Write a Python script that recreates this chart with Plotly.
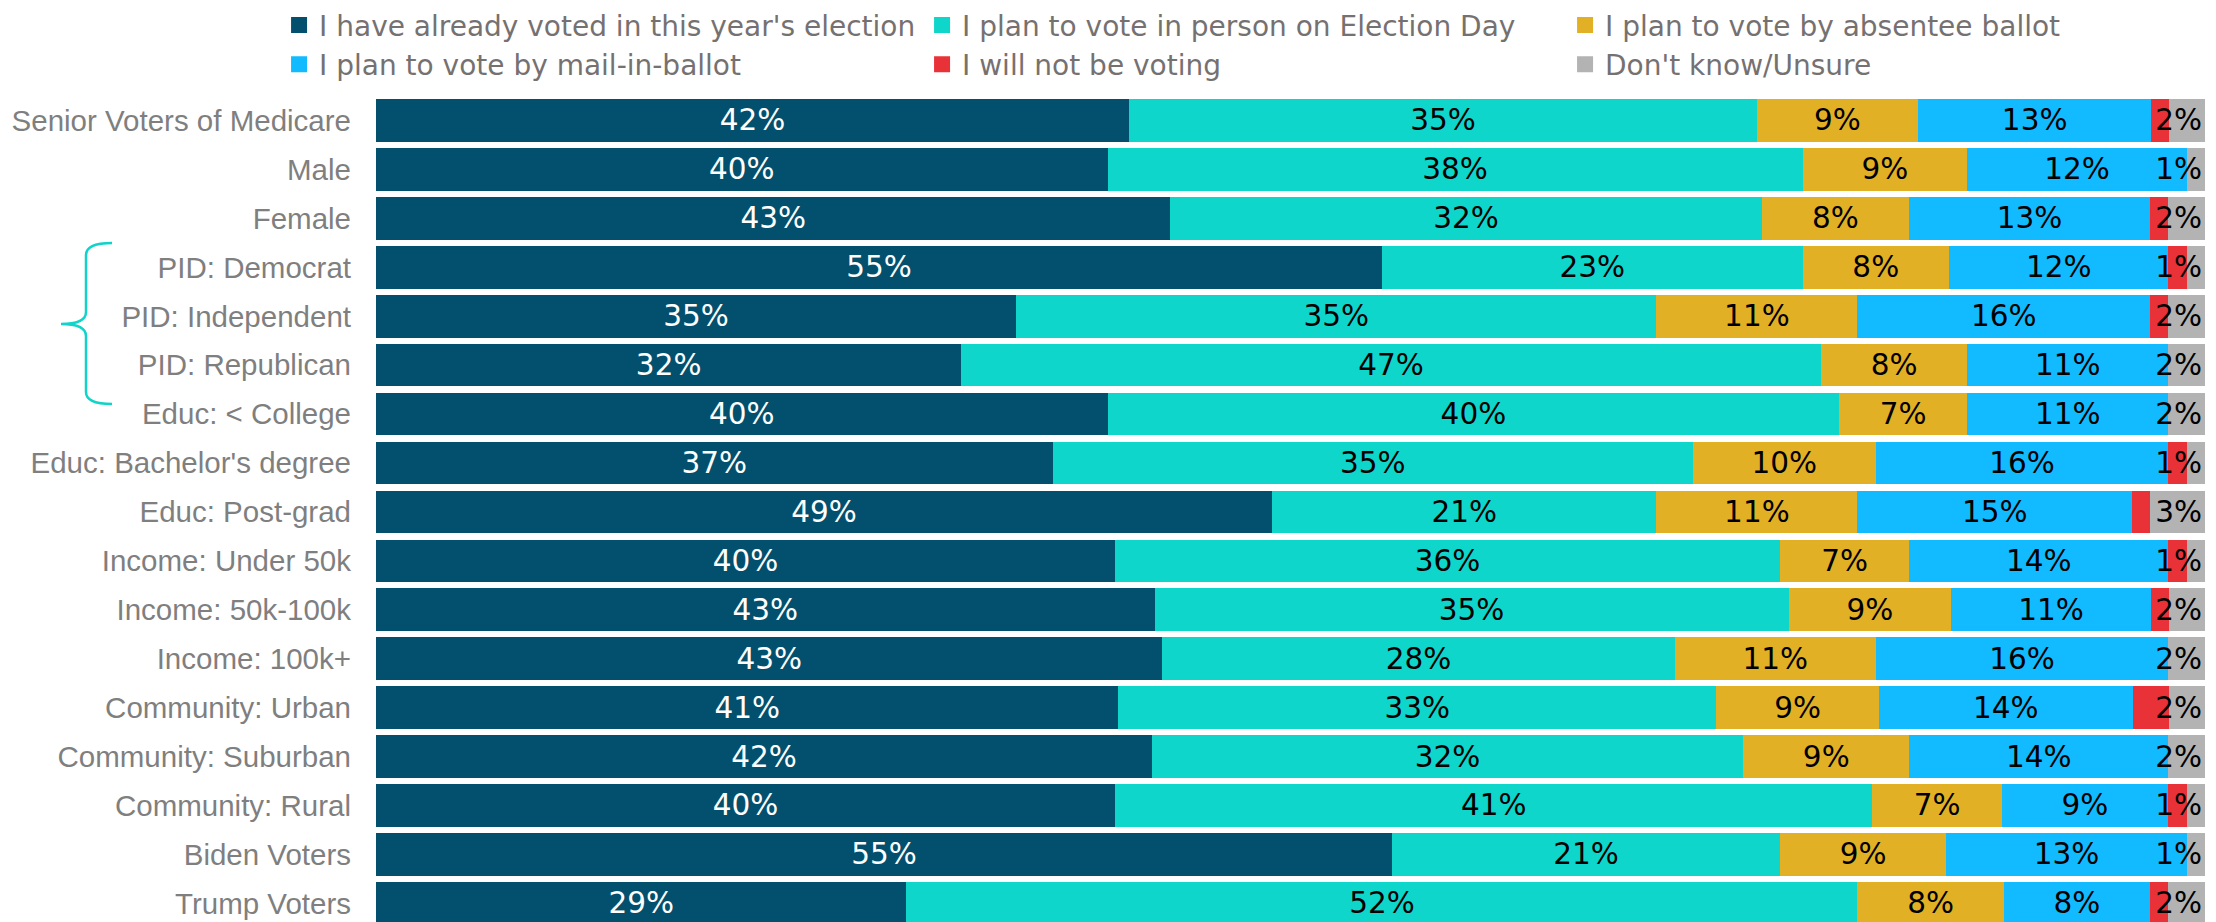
import plotly.graph_objects as go

categories = [
    "Senior Voters of Medicare", "Male", "Female", "PID: Democrat",
    "PID: Independent", "PID: Republican", "Educ: < College",
    "Educ: Bachelor's degree", "Educ: Post-grad", "Income: Under 50k",
    "Income: 50k-100k", "Income: 100k+", "Community: Urban",
    "Community: Suburban", "Community: Rural", "Biden Voters", "Trump Voters",
]

series_names = [
    "I have already voted in this year's election",
    "I plan to vote in person on Election Day",
    "I plan to vote by absentee ballot",
    "I plan to vote by mail-in-ballot",
    "I will not be voting",
    "Don't know/Unsure",
]

already_voted = [42, 40, 43, 55, 35, 32, 40, 37, 49, 40, 43, 43, 41, 42, 40, 55, 29]
in_person = [35, 38, 32, 23, 35, 47, 40, 35, 21, 36, 35, 28, 33, 32, 41, 21, 52]
absentee = [9, 9, 8, 8, 11, 8, 7, 10, 11, 7, 9, 11, 9, 9, 7, 9, 8]
mail_in = [13, 12, 13, 12, 16, 11, 11, 16, 15, 14, 11, 16, 14, 14, 9, 13, 8]
not_voting = [1, 0, 1, 1, 1, 0, 0, 1, 1, 1, 1, 0, 2, 0, 1, 0, 1]
unsure = [2, 1, 2, 1, 2, 2, 2, 1, 3, 1, 2, 2, 2, 2, 1, 1, 2]

colors = ["#02506E", "#0FD6CB", "#E2B024", "#12BBFF", "#E93238", "#B3B3B3"]
text_colors = ["#FFFFFF", "#000000", "#000000", "#000000", "#000000", "#000000"]

all_series = [already_voted, in_person, absentee, mail_in, not_voting, unsure]

LABEL_FONT = "DejaVu Sans, Verdana, sans-serif"
TICK_FONT = "Liberation Sans, Arial, sans-serif"

fig = go.Figure()

for i, (name, vals) in enumerate(zip(series_names, all_series)):
    show_text = i != 4
    fig.add_trace(go.Bar(
        y=categories,
        x=vals,
        orientation="h",
        name=name,
        marker=dict(color=colors[i], line=dict(width=0)),
        text=[f"{v}%" for v in vals] if show_text else None,
        textposition="inside" if show_text else "none",
        insidetextanchor="end" if i == 5 else "middle",
        textangle=0,
        constraintext="none",
        textfont=dict(family=LABEL_FONT, size=29.5, color=text_colors[i]),
        showlegend=False,
        hoverinfo="x+y+name",
    ))

# legend-only entries with larger square swatches
for i, name in enumerate(series_names):
    fig.add_trace(go.Scatter(
        x=[None], y=[None], mode="markers", name=name,
        marker=dict(symbol="square", size=16, color=colors[i]),
        showlegend=True, hoverinfo="skip",
    ))

# bracket next to the PID rows
xa = (112 - 376) / 1829
xv = (86 - 376) / 1829
xt = (61 - 376) / 1829
y0 = (922 - 243) / 826
y1 = (922 - 404) / 826
ym = (922 - 324) / 826
r = 12 / 826
brace = (f"M {xa},{y0} Q {xv},{y0} {xv},{y0 - r} L {xv},{ym + r} "
         f"Q {xv},{ym} {xt},{ym} Q {xv},{ym} {xv},{ym - r} "
         f"L {xv},{y1 + r} Q {xv},{y1} {xa},{y1}")

fig.update_layout(
    width=2216, height=922,
    margin=dict(l=376, r=11, t=96, b=0, pad=0),
    barmode="stack",
    barnorm="percent",
    bargap=0.1275,
    paper_bgcolor="white",
    plot_bgcolor="white",
    xaxis=dict(visible=False, range=[0, 100], fixedrange=True),
    yaxis=dict(
        range=[16.381, -0.5],
        showgrid=False, zeroline=False, showline=False, ticks="",
        tickfont=dict(family=TICK_FONT, size=29.5, color="#7F7F7F"),
        ticklabelstandoff=24,
    ),
    legend=dict(
        orientation="h",
        x=-0.053, xanchor="left",
        y=1.116, yanchor="top",
        entrywidth=598, entrywidthmode="pixels",
        font=dict(family=LABEL_FONT, size=28, color="#767171"),
        bgcolor="rgba(0,0,0,0)",
        traceorder="normal",
        itemsizing="trace",
        tracegroupgap=0,
    ),
    shapes=[dict(type="path", path=brace, xref="paper", yref="paper",
                 line=dict(color="#10D3C9", width=2.5))],
    showlegend=True,
)

fig.write_html(
    "out.html",
    config={"displayModeBar": False},
    post_script="document.body.style.margin='0';document.body.style.overflow='hidden';",
)
